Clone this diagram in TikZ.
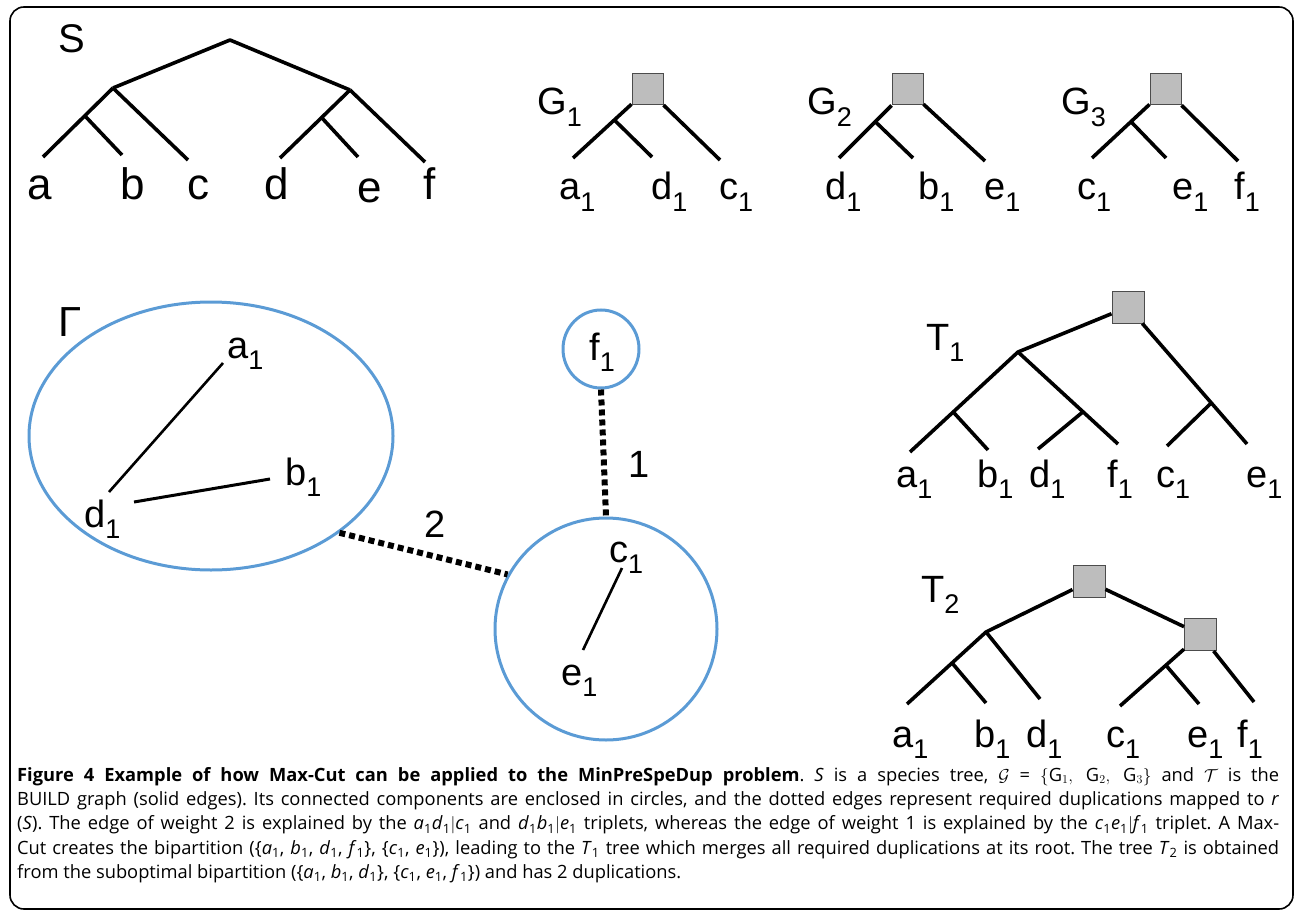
\documentclass[tikz,border=0pt]{standalone}
\usepackage{fontspec}
\setmainfont{Open Sans}
\newfontfamily\arialf{Liberation Sans}
\usetikzlibrary{shapes.geometric,calc}
\definecolor{cblue}{HTML}{5B9BD5}
\definecolor{boxgray}{HTML}{BDBDBD}
\newcommand\lbl[2]{#1\raisebox{-0.3em}{\fontsize{27}{27}\selectfont #2}}
\newcommand\iv[2]{\textit{#1}\textsubscript{#2}}
\begin{document}
\begin{tikzpicture}[x=1pt,y=-1pt,
  tl/.style={line width=3.6pt, line cap=butt},
  dupbox/.style={draw=black!70, fill=boxgray, line width=1pt, minimum size=31pt, inner sep=0pt, rectangle},
  big/.style={inner sep=0pt, anchor=base, font=\arialf\fontsize{44}{44}\selectfont},
  lab/.style={inner sep=0pt, anchor=base west, font=\arialf\fontsize{38}{38}\selectfont},
  comp/.style={draw=cblue, line width=3pt, inner sep=0pt},
  gedge/.style={line width=2.6pt},
  dots/.style={line width=6pt, dash pattern=on 6pt off 4pt}]
\useasboundingbox (0,0) rectangle (1295,912);
\draw[line width=1.6pt, rounded corners=14pt] (10,7) rectangle (1293,909);

% ---------- S tree
\node[big, font=\arialf\fontsize{40}{40}\selectfont] (Slab) at (72,53) {S};
\coordinate (sroot) at (230,40);
\coordinate (sl) at (113,88);
\coordinate (sr) at (350,90);
\coordinate (sab) at (85,116);
\coordinate (sa) at (43,157);
\coordinate (sb) at (122,155);
\coordinate (sc) at (188,160);
\coordinate (sde) at (322,118);
\coordinate (sd) at (280,158);
\coordinate (se) at (358,157);
\coordinate (sf) at (425,162);
\draw[tl, line join=round] (sl) -- (sroot) -- (sr);
\draw[tl] (sl) -- (sa);
\draw[tl] (sab) -- (sb);
\draw[tl] (sl) -- (sc);
\draw[tl] (sr) -- (sd);
\draw[tl] (sde) -- (se);
\draw[tl] (sr) -- (sf);
\node[big] (la) at (40,200) {a};
\node[big] (lb) at (133,200) {b};
\node[big] (lc) at (198,200) {c};
\node[big] (ld) at (277,200) {d};
\node[big] (le) at (370,203) {e};
\node[big] (lf) at (430,200) {f};

% ---------- G1
\node[dupbox] (g1box) at (647.5,89.5) {};
\coordinate (g1a) at (573,158);
\coordinate (g1d) at (652,157);
\coordinate (g1c) at (720,160);
\coordinate (g1i) at ($(g1box.center)!0.445!(g1a)$);
\draw[tl] (g1box) -- (g1a);
\draw[tl] (g1i) -- (g1d);
\draw[tl] (g1box) -- (g1c);
\node[lab] (g1lab) at (537,115) {\lbl{G}{1}};
\node[lab] (g1la) at (559,200) {\lbl{a}{1}};
\node[lab] (g1ld) at (651,200) {\lbl{d}{1}};
\node[lab] (g1lc) at (719,200) {\lbl{c}{1}};

% ---------- G2
\node[dupbox] (g2box) at (907.5,89.5) {};
\coordinate (g2d) at (839,158);
\coordinate (g2b) at (913,158);
\coordinate (g2e) at (985,161);
\coordinate (g2i) at ($(g2box.center)!0.47!(g2d)$);
\draw[tl] (g2box) -- (g2d);
\draw[tl] (g2i) -- (g2b);
\draw[tl] (g2box) -- (g2e);
\node[lab] (g2lab) at (807,115) {\lbl{G}{2}};
\node[lab] (g2ld) at (825,200) {\lbl{d}{1}};
\node[lab] (g2lb) at (918,200) {\lbl{b}{1}};
\node[lab] (g2le) at (984,200) {\lbl{e}{1}};

% ---------- G3
\node[dupbox] (g3box) at (1165.5,89.5) {};
\coordinate (g3c) at (1092,158);
\coordinate (g3e) at (1166,158);
\coordinate (g3f) at (1238,161);
\coordinate (g3i) at ($(g3box.center)!0.47!(g3c)$);
\draw[tl] (g3box) -- (g3c);
\draw[tl] (g3i) -- (g3e);
\draw[tl] (g3box) -- (g3f);
\node[lab] (g3lab) at (1061,115) {\lbl{G}{3}};
\node[lab] (g3lc) at (1077,200) {\lbl{c}{1}};
\node[lab] (g3le) at (1172,200) {\lbl{e}{1}};
\node[lab] (g3lf) at (1234,200) {\lbl{f}{1}};

% ---------- Gamma graph
\node[lab, font=\arialf\fontsize{42}{42}\selectfont] (gam) at (58,336) {Γ};
\node[comp, ellipse, minimum width=364pt, minimum height=268pt] (E) at (211,436) {};
\node[lab] (na) at (227,358) {\lbl{a}{1}};
\node[lab] (nb) at (285,485) {\lbl{b}{1}};
\node[lab] (nd) at (84,527) {\lbl{d}{1}};
\coordinate (ea1) at (223,363);
\coordinate (ed1) at (109,492);
\coordinate (ed2) at (134,502);
\coordinate (eb1) at (270,479);
\draw[gedge] (ea1) -- (ed1);
\draw[gedge, line width=3pt] (ed2) -- (eb1);

\node[comp, ellipse, minimum width=76pt, minimum height=78pt] (F) at (601,349) {};
\node[inner sep=0pt, anchor=base west, font=\arialf\fontsize{38}{38}\selectfont] (nf) at (589,360) {\lbl{f}{1}};
\node[comp, circle, minimum size=222pt] (C) at (606,629) {};
\node[lab] (nc) at (609,562) {\lbl{c}{1}};
\node[lab] (ne) at (561,685) {\lbl{e}{1}};
\coordinate (ec1) at (622,568);
\coordinate (ee1) at (583,650);
\draw[gedge] (ec1) -- (ee1);

\draw[dots] (F.south) -- (C.north);
\draw[dots] (E.-37) -- (C.151);
\node[lab] (w1) at (628,477) {1};
\node[lab] (w2) at (424,537) {2};

% ---------- T1
\node[dupbox, minimum size=32pt] (t1box) at (1128,307) {};
\coordinate (t1i) at (1018,352);
\coordinate (t1a) at (910,452);
\coordinate (t1b) at (988,450);
\coordinate (t1d) at (1038,449);
\coordinate (t1f) at (1118,444);
\coordinate (t1c) at (1167,446);
\coordinate (t1e) at (1247,444);
\coordinate (t1ab) at ($(t1i)!0.6!(t1a)$);
\coordinate (t1df) at ($(t1i)!0.65!(t1f)$);
\coordinate (t1ce) at ($(t1box.center)!0.7!(t1e)$);
\draw[tl, line join=round] (t1box) -- (t1i) -- (t1a);
\draw[tl] (t1ab) -- (t1b);
\draw[tl] (t1i) -- (t1f);
\draw[tl] (t1df) -- (t1d);
\draw[tl] (t1box) -- (t1e);
\draw[tl] (t1ce) -- (t1c);
\node[lab] (t1lab) at (926,350) {\lbl{T}{1}};
\node[lab] (t1la) at (896,487) {\lbl{a}{1}};
\node[lab] (t1lb) at (977,487) {\lbl{b}{1}};
\node[lab] (t1ld) at (1029,487) {\lbl{d}{1}};
\node[lab] (t1lf) at (1107,487) {\lbl{f}{1}};
\node[lab] (t1lc) at (1156,487) {\lbl{c}{1}};
\node[lab] (t1le) at (1246,487) {\lbl{e}{1}};

% ---------- T2
\node[dupbox, minimum size=32pt] (t2r) at (1089,581.5) {};
\node[dupbox, minimum size=32pt] (t2s) at (1200.5,634.5) {};
\coordinate (t2i) at (986,632);
\coordinate (t2a) at (907,704);
\coordinate (t2b) at (986,703);
\coordinate (t2d) at (1040,699);
\coordinate (t2c) at (1120,706);
\coordinate (t2e) at (1199,704);
\coordinate (t2f) at (1254,702);
\coordinate (t2ab) at ($(t2i)!0.43!(t2a)$);
\coordinate (t2ce) at ($(t2s.center)!0.43!(t2c)$);
\draw[tl, line join=round] (t2r) -- (t2i) -- (t2a);
\draw[tl] (t2ab) -- (t2b);
\draw[tl] (t2i) -- (t2d);
\draw[tl] (t2r) -- (t2s);
\draw[tl] (t2s) -- (t2c);
\draw[tl] (t2ce) -- (t2e);
\draw[tl] (t2s) -- (t2f);
\node[lab] (t2lab) at (921,602) {\lbl{T}{2}};
\node[lab] (t2la) at (892,747) {\lbl{a}{1}};
\node[lab] (t2lb) at (974,747) {\lbl{b}{1}};
\node[lab] (t2ld) at (1026,747) {\lbl{d}{1}};
\node[lab] (t2lc) at (1106,747) {\lbl{c}{1}};
\node[lab] (t2le) at (1187,747) {\lbl{e}{1}};
\node[lab] (t2lf) at (1237,747) {\lbl{f}{1}};

% ---------- caption
\node[anchor=base west, text width=1262pt, align=justify, inner sep=0pt,
      font=\fontsize{18.3}{24.4}\selectfont] (cap) at (17,781)
{\frenchspacing\hyphenpenalty=10000 \textbf{Figure 4 Example of how Max-Cut can be applied to the MinPreSpeDup problem}. \textit{S} is a species tree, $\mathcal{G}$ = $\{\mathrm{G}_1,\ \mathrm{G}_2,\ \mathrm{G}_3\}$ and $\mathcal{T}$ is the\linebreak
BUILD graph (solid edges). Its connected components are enclosed in circles, and the dotted edges represent required duplications mapped to \textit{r}\linebreak
(\textit{S}). The edge of weight 2 is explained by the \iv{a}{1}\iv{d}{1}$|$\iv{c}{1} and \iv{d}{1}\iv{b}{1}$|$\iv{e}{1} triplets, whereas the edge of weight 1 is explained by the \iv{c}{1}\iv{e}{1}$|$\iv{f}{1} triplet. A Max-\linebreak
Cut creates the bipartition (\{\iv{a}{1}, \iv{b}{1}, \iv{d}{1}, \iv{f}{1}\}, \{\iv{c}{1}, \iv{e}{1}\}), leading to the \iv{T}{1} tree which merges all required duplications at its root. The tree \iv{T}{2} is obtained\linebreak
from the suboptimal bipartition (\{\iv{a}{1}, \iv{b}{1}, \iv{d}{1}\}, \{\iv{c}{1}, \iv{e}{1}, \iv{f}{1}\}) and has 2 duplications.\par};
\end{tikzpicture}
\end{document}
